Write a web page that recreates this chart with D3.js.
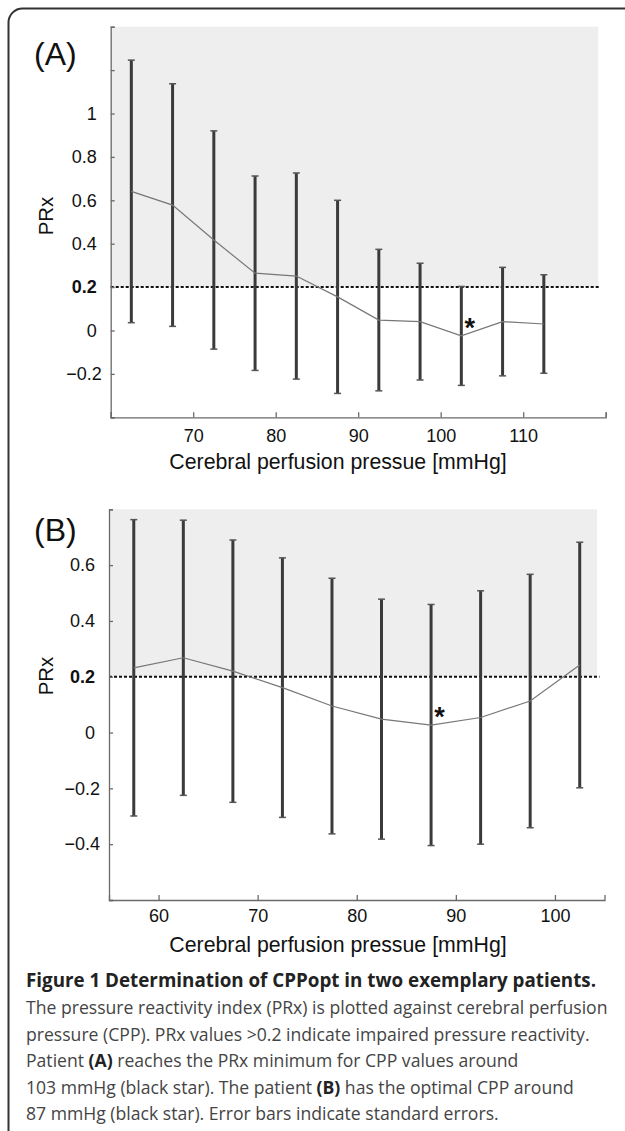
<!DOCTYPE html>
<html>
<head>
<meta charset="utf-8">
<script src="https://cdn.jsdelivr.net/npm/d3@7"></script>
<style>
  body { margin: 0; background: #fff; }
  svg { display: block; font-family: "Liberation Sans", Arial, sans-serif; }
  .caption { font-family: "Open Sans", Lato, sans-serif; }
</style>
</head>
<body>
<svg id="fig" width="625" height="1131"></svg>
<script>
// ---- patient A ----
const cppA = [62.5, 67.5, 72.5, 77.5, 82.5, 87.5, 92.5, 97.5, 102.5, 107.5, 112.5];
const prxA = [0.641, 0.578, 0.417, 0.264, 0.251, 0.155, 0.048, 0.041, -0.025, 0.041, 0.030];
const seA  = [0.605, 0.559, 0.503, 0.448, 0.475, 0.445, 0.326, 0.269, 0.228, 0.250, 0.227];
const xTicksA  = [60, 70, 80, 90, 100, 110, 120];
const xLabelsA = [70, 80, 90, 100, 110];
const yTicksA  = [-0.4, -0.2, 0, 0.2, 0.4, 0.6, 0.8, 1, 1.2, 1.4];
const yLabelsA = [-0.2, 0, 0.2, 0.4, 0.6, 0.8, 1];

// ---- patient B ----
const cppB = [57.5, 62.5, 67.5, 72.5, 77.5, 82.5, 87.5, 92.5, 97.5, 102.5];
const prxB = [0.232, 0.268, 0.220, 0.161, 0.095, 0.048, 0.027, 0.054, 0.113, 0.242];
const seB  = [0.531, 0.493, 0.470, 0.465, 0.458, 0.430, 0.432, 0.454, 0.454, 0.440];
const xTicksB  = [60, 70, 80, 90, 100];
const xLabelsB = [60, 70, 80, 90, 100];
const yTicksB  = [-0.6, -0.4, -0.2, 0, 0.2, 0.4, 0.6, 0.8];
const yLabelsB = [-0.4, -0.2, 0, 0.2, 0.4, 0.6];

const threshold = 0.2;

const captionTitle = "Figure 1 Determination of CPPopt in two exemplary patients.";
const captionLines = [
  [["The pressure reactivity index (PRx) is plotted against cerebral perfusion", false]],
  [["pressure (CPP). PRx values >0.2 indicate impaired pressure reactivity.", false]],
  [["Patient ", false], ["(A)", true], [" reaches the PRx minimum for CPP values around", false]],
  [["103 mmHg (black star). The patient ", false], ["(B)", true], [" has the optimal CPP around", false]],
  [["87 mmHg (black star). Error bars indicate standard errors.", false]]
];

const svg = d3.select("#fig");

// rounded frame (only top-left corner is inside the page)
svg.append("rect")
  .attr("x", 8.5).attr("y", 8.5)
  .attr("width", 700).attr("height", 1300)
  .attr("rx", 14)
  .attr("fill", "none")
  .attr("stroke", "#333")
  .attr("stroke-width", 2);

function fmt(d) {
  return d < 0 ? "\u2212" + Math.abs(d) : String(d);
}
function has(arr, d) {
  return arr.some(v => Math.abs(v - d) < 1e-9);
}

function drawPanel(o) {
  let x = d3.scaleLinear().domain(o.xDomain).range([o.left, o.right]);
  let y = d3.scaleLinear().domain(o.yDomain).range([o.bottom, o.top]);
  let g = svg.append("g");

  // shaded region PRx > 0.2
  g.append("rect")
    .attr("x", o.left)
    .attr("y", y(o.yDomain[1]))
    .attr("width", o.right - 7.5 - o.left)
    .attr("height", y(threshold) - y(o.yDomain[1]))
    .attr("fill", "#eeeeee");

  // dotted threshold
  g.append("line")
    .attr("x1", o.left).attr("x2", o.right - 5)
    .attr("y1", y(threshold)).attr("y2", y(threshold))
    .attr("stroke", "#111")
    .attr("stroke-width", 2)
    .attr("stroke-dasharray", "3,2");

  // y axis
  let yAxis = d3.axisLeft(y)
    .tickValues(o.yTicks)
    .tickSizeInner(-4)
    .tickSizeOuter(-4)
    .tickPadding(14)
    .tickFormat(d => has(o.yLabels, d) ? fmt(d) : "");
  let ya = g.append("g")
    .attr("transform", "translate(" + o.left + ",0)")
    .call(yAxis);

  // x axis
  let xAxis = d3.axisBottom(x)
    .tickValues(o.xTicks)
    .tickSizeInner(-5)
    .tickSizeOuter(-5)
    .tickPadding(o.xPad)
    .tickFormat(d => has(o.xLabels, d) ? fmt(d) : "");
  let xa = g.append("g")
    .attr("transform", "translate(0," + o.bottom + ")")
    .call(xAxis);

  [ya, xa].forEach(a => {
    a.selectAll("path, line").attr("stroke", "#6a6a6a").attr("stroke-width", 1.3);
    a.selectAll("text")
      .attr("fill", "#111")
      .style("font-size", "18px")
      .style("font-family", "'Liberation Sans', Arial, sans-serif");
  });
  ya.selectAll("text")
    .filter(d => Math.abs(d - threshold) < 1e-9)
    .style("font-weight", "bold");
  ya.selectAll("text")
    .filter(d => d < 0)
    .attr("dx", 5);

  // error bars
  let bars = g.append("g").selectAll("g")
    .data(o.cpp.map((c, i) => ({ c: c, m: o.prx[i], e: o.se[i] })))
    .enter().append("g");
  bars.append("line")
    .attr("x1", d => x(d.c)).attr("x2", d => x(d.c))
    .attr("y1", d => y(d.m + d.e)).attr("y2", d => y(d.m - d.e))
    .attr("stroke", "#3a3a3a")
    .attr("stroke-width", 3);
  ["top", "bot"].forEach(k => {
    bars.append("line")
      .attr("x1", d => x(d.c) - 3.5).attr("x2", d => x(d.c) + 3.5)
      .attr("y1", d => y(k === "top" ? d.m + d.e : d.m - d.e))
      .attr("y2", d => y(k === "top" ? d.m + d.e : d.m - d.e))
      .attr("stroke", "#555")
      .attr("stroke-width", 1.5);
  });

  // mean line
  let line = d3.line()
    .x((d, i) => x(o.cpp[i]))
    .y(d => y(d));
  g.append("path")
    .datum(o.prx)
    .attr("d", line)
    .attr("fill", "none")
    .attr("stroke", "#777")
    .attr("stroke-width", 1.2);

  // star at the PRx minimum
  let iMin = d3.minIndex(o.prx);
  g.append("text")
    .attr("x", x(o.cpp[iMin]) + 8.5)
    .attr("y", y(o.prx[iMin]) + 1)
    .attr("text-anchor", "middle")
    .style("font-size", "27px")
    .style("font-weight", "bold")
    .attr("fill", "#111")
    .text("*");

  // panel letter
  g.append("text")
    .attr("x", 34).attr("y", o.labelY)
    .style("font-size", "32px")
    .attr("fill", "#111")
    .text(o.label);

  // y title
  g.append("text")
    .attr("transform", "translate(" + 53 + "," + o.yTitleY + ") rotate(-90)")
    .attr("text-anchor", "middle")
    .style("font-size", "20.5px")
    .attr("fill", "#111")
    .text("PRx");

  // x title
  g.append("text")
    .attr("x", 338).attr("y", o.xTitleY)
    .attr("text-anchor", "middle")
    .style("font-size", "21.3px")
    .attr("fill", "#111")
    .text("Cerebral perfusion pressue [mmHg]");
}

drawPanel({
  label: "(A)", labelY: 65,
  cpp: cppA, prx: prxA, se: seA,
  xDomain: [60, 120], yDomain: [-0.4, 1.4],
  left: 110.7, right: 605.7, top: 26.7, bottom: 417.3,
  xTicks: xTicksA, xLabels: xLabelsA, yTicks: yTicksA, yLabels: yLabelsA,
  xPad: 12, yTitleY: 216, xTitleY: 468.5
});

drawPanel({
  label: "(B)", labelY: 541,
  cpp: cppB, prx: prxB, se: seB,
  xDomain: [55, 105], yDomain: [-0.6, 0.8],
  left: 109, right: 604.5, top: 509.3, bottom: 900,
  xTicks: xTicksB, xLabels: xLabelsB, yTicks: yTicksB, yLabels: yLabelsB,
  xPad: 9.3, yTitleY: 676, xTitleY: 952
});

// caption
let cap = svg.append("g").attr("class", "caption");
cap.append("text")
  .attr("x", 26).attr("y", 987)
  .style("font-size", "18.8px")
  .style("font-weight", "bold")
  .attr("fill", "#222")
  .text(captionTitle);

captionLines.forEach((parts, i) => {
  let t = cap.append("text")
    .attr("x", 26).attr("y", 1014 + i * 26.5)
    .style("font-size", "17.6px")
    .attr("fill", "#444");
  parts.forEach(p => {
    t.append("tspan")
      .style("font-weight", p[1] ? "bold" : "normal")
      .attr("fill", p[1] ? "#222" : "#444")
      .text(p[0]);
  });
});
</script>
</body>
</html>
